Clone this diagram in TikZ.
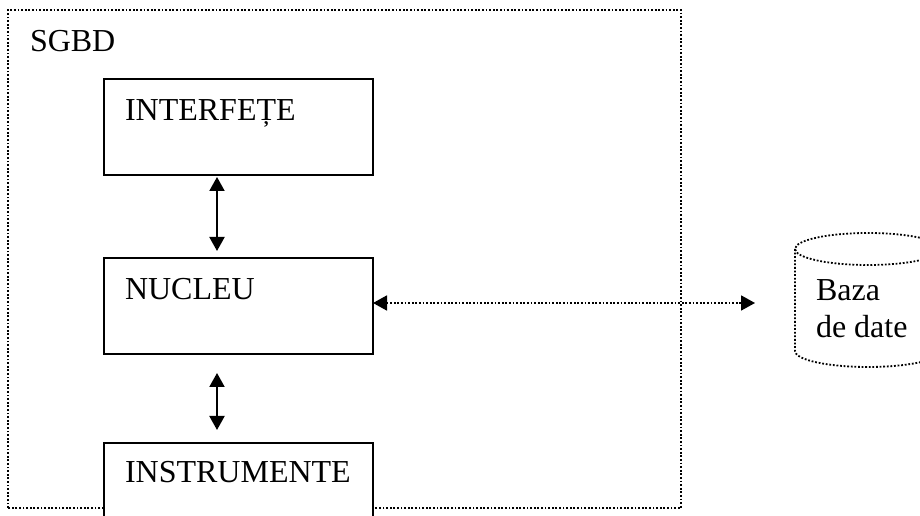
\documentclass[tikz,border=0pt]{standalone}
\usepackage{fontspec}
\setmainfont{Liberation Serif}
\usetikzlibrary{arrows.meta,calc}
\begin{document}
\begin{tikzpicture}[x=1pt,y=1pt,
  every node/.style={font=\fontsize{32}{36}\selectfont, inner sep=0pt, outer sep=0pt},
  dotline/.style={line width=1.8pt, dash pattern=on 1.8pt off 1.8pt},
  boxnode/.style={draw, line width=2pt, fill=white, minimum width=269pt, minimum height=96pt, anchor=north west},
  label text/.style={anchor=base west},
  biarrow/.style={line width=2pt, {Triangle[length=14pt,width=15pt]}-{Triangle[length=14pt,width=15pt]}},
  dotarrow/.style={dotline, {Triangle[length=14pt,width=15pt]}-{Triangle[length=14pt,width=15pt]}}
]
\useasboundingbox (0,0) rectangle (920,516);
% outer SGBD frame
\draw[dotline] (8,8) rectangle (681,506);
\node[label text] (sgbd) at (30,464) {SGBD};
% boxes
\node[boxnode] (int) at (104,437) {};
\node[label text] (intt) at ($(int.north west)+(21,-42)$) {INTERFEȚE};
\node[boxnode] (nuc) at (104,258) {};
\node[label text] (nuct) at ($(nuc.north west)+(21,-42)$) {NUCLEU};
\node[boxnode, minimum height=110pt] (ins) at (104,73) {};
\node[label text] (inst) at ($(ins.north west)+(21,-40)$) {INSTRUMENTE};
% solid double arrows
\draw[biarrow, shorten <=2pt, shorten >=7pt] ([xshift=-21.5pt]int.south) -- ([xshift=-21.5pt]nuc.north);
\draw[biarrow, shorten <=19pt, shorten >=13pt] ([xshift=-21.5pt]nuc.south) -- ([xshift=-21.5pt]ins.north);
% database cylinder
\draw[dotline] (795,267) -- (795,165) arc[start angle=180, end angle=360, x radius=73, y radius=16] -- (941,267);
\draw[dotline] (868,267) ellipse [x radius=73, y radius=16];
\node[label text] (dba) at (816,215) {Baza};
\node[label text] (dbb) at (816,178) {de date};
% dotted double arrow
\coordinate (dbend) at (755,213);
\draw[dotarrow] (nuc.east |- dbend) -- (dbend);
\end{tikzpicture}
\end{document}
